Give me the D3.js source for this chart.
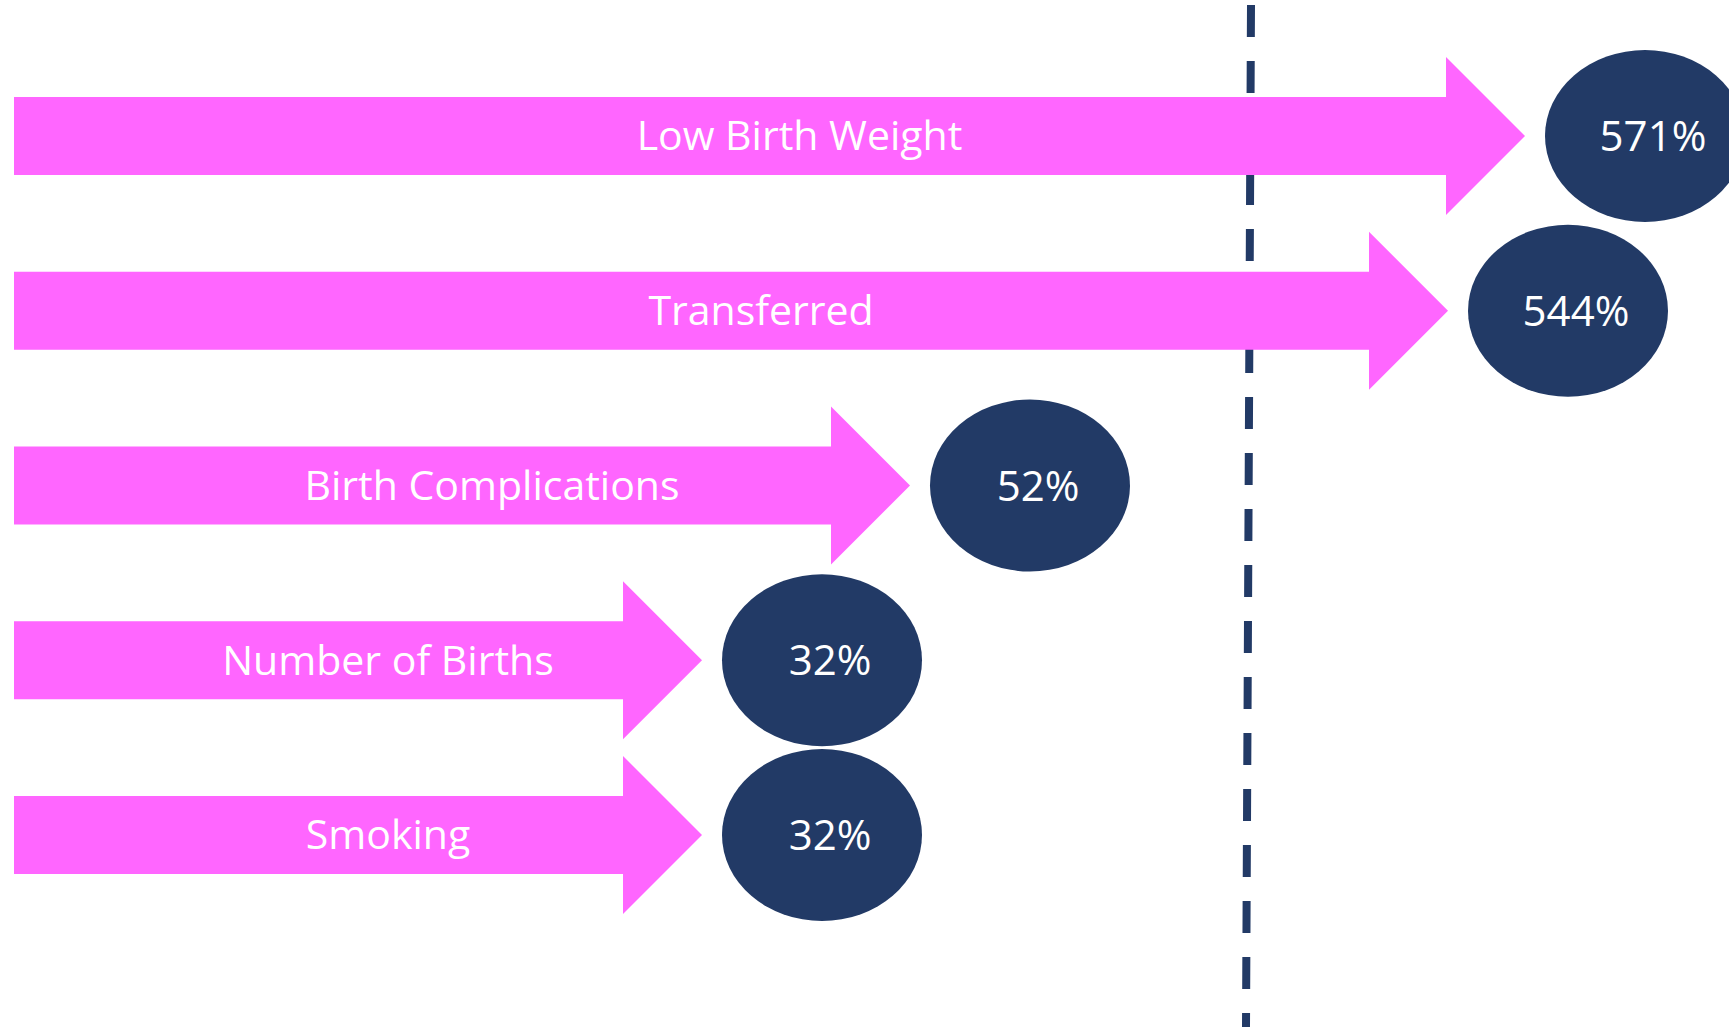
<!DOCTYPE html>
<html>
<head>
<meta charset="utf-8">
<script src="https://cdn.jsdelivr.net/npm/d3@7"></script>
<style>
  html, body { margin: 0; padding: 0; background: #ffffff; overflow: hidden; }
  svg { display: block; }
  text { font-variant-ligatures: none; }
</style>
</head>
<body>
<div id="chart"></div>
<script>
// categories, top to bottom
const categories = ['Low Birth Weight', 'Transferred', 'Birth Complications', 'Number of Births', 'Smoking'];
// percentage change shown in the bubbles
const values = [571, 544, 52, 32, 32];
const valueLabels = ['571%', '544%', '52%', '32%', '32%'];

const width = 1729, height = 1027;
const pink = '#ff66ff';
const navy = '#223a66';

const svg = d3.select('#chart').append('svg')
  .attr('width', width)
  .attr('height', height);

// rows
const y = d3.scalePoint().domain(categories).range([136, 835]);

// arrow tip position — infographic is not proportional, so piecewise scale
const xTip = d3.scaleLinear().domain([32, 52, 544, 571]).range([702, 910, 1448, 1525]);

const x0 = 14;        // arrow tail
const shaftH = 39;    // half height of shaft
const headH = 79;     // half height of head
const headL = 79;     // head length
const rx = 100, ry = 86, gap = 20;

const data = categories.map((c, i) => ({ cat: c, value: values[i], label: valueLabels[i] }));

function arrowPath(d) {
  const tip = xTip(d.value), m = y(d.cat), s = tip - headL;
  return `M${x0},${m - shaftH}H${s}V${m - headH}L${tip},${m}L${s},${m + headH}V${m + shaftH}H${x0}Z`;
}

// dashed reference line (slightly tilted, as in the original)
svg.append('line')
  .attr('x1', 1251).attr('y1', 5)
  .attr('x2', 1246).attr('y2', 1027)
  .attr('stroke', navy)
  .attr('stroke-width', 8)
  .attr('stroke-dasharray', '32 24');

const row = svg.append('g').selectAll('g')
  .data(data)
  .join('g');

row.append('path')
  .attr('d', arrowPath)
  .attr('fill', pink);

row.append('text')
  .attr('x', d => (x0 + xTip(d.value)) / 2 + 30)
  .attr('y', d => y(d.cat))
  .attr('dy', '0.35em')
  .attr('text-anchor', 'middle')
  .attr('fill', '#ffffff')
  .style('font-family', '"Open Sans", Lato, sans-serif')
  .style('font-size', '41px')
  .text(d => d.cat);

row.append('ellipse')
  .attr('cx', d => xTip(d.value) + gap + rx)
  .attr('cy', d => y(d.cat))
  .attr('rx', rx)
  .attr('ry', ry)
  .attr('fill', navy);

row.append('text')
  .attr('x', d => xTip(d.value) + gap + rx + 8)
  .attr('y', d => y(d.cat))
  .attr('dy', '0.36em')
  .attr('text-anchor', 'middle')
  .attr('fill', '#ffffff')
  .style('font-family', '"Open Sans", Lato, sans-serif')
  .style('font-size', '42px')
  .text(d => d.label);
</script>
</body>
</html>
